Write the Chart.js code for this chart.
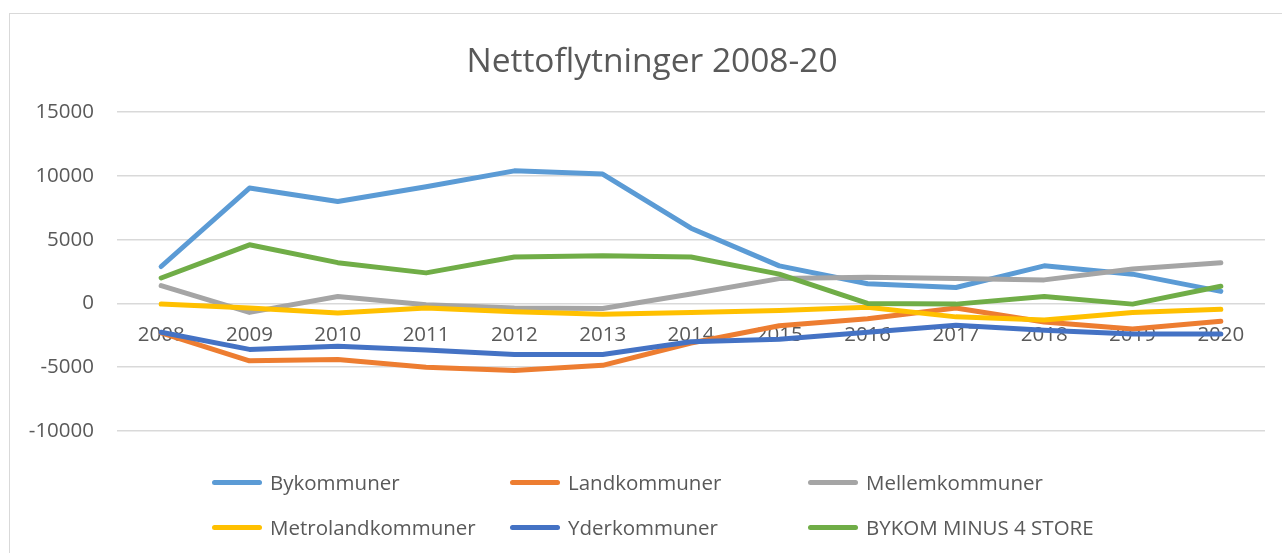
<!DOCTYPE html>
<html>
<head>
<meta charset="utf-8">
<script src="https://cdn.jsdelivr.net/npm/chart.js@4"></script>
<style>
  body { margin: 0; width: 1282px; height: 553px; overflow: hidden; background: #fff; position: relative; font-family: 'Open Sans', sans-serif; }
  #frame { position: absolute; left: 9px; top: 13px; width: 1300px; height: 600px; border: 1px solid #d9d9d9; }
  #myChart { position: absolute; left: 0; top: 0; }
  .leg { position: absolute; display: flex; align-items: center; color: #595959; font-size: 20.5px; white-space: nowrap; }
  .leg span.sw { display: inline-block; width: 50px; height: 5px; border-radius: 3px; margin-right: 8px; }
</style>
</head>
<body>
<div id="frame"></div>
<canvas id="myChart" width="1282" height="553"></canvas>
<div id="legend"></div>
<script>
const years = ['2008', '2009', '2010', '2011', '2012', '2013', '2014', '2015', '2016', '2017', '2018', '2019', '2020'];
const yTicks = [-10000, -5000, 0, 5000, 10000, 15000];

const bykommuner = [2900, 9050, 8000, 9150, 10400, 10150, 5900, 2950, 1550, 1250, 2950, 2300, 950];
const landkommuner = [-2300, -4500, -4400, -5000, -5250, -4850, -3100, -1750, -1200, -350, -1450, -2000, -1400];
const mellemkommuner = [1400, -700, 550, -100, -350, -400, 750, 1950, 2050, 1950, 1850, 2700, 3200];
const metrolandkommuner = [-50, -350, -750, -350, -650, -850, -700, -550, -300, -1050, -1300, -700, -450];
const yderkommuner = [-2250, -3600, -3350, -3650, -4000, -4000, -3000, -2800, -2250, -1700, -2100, -2400, -2400];
const bykomMinus4 = [2000, 4600, 3200, 2400, 3650, 3750, 3650, 2300, 0, -50, 550, -50, 1350];

const names = ['Bykommuner', 'Landkommuner', 'Mellemkommuner', 'Metrolandkommuner', 'Yderkommuner', 'BYKOM MINUS 4 STORE'];
const colors = ['#5B9BD5', '#ED7D31', '#A5A5A5', '#FFC000', '#4472C4', '#70AD47'];
const series = [bykommuner, landkommuner, mellemkommuner, metrolandkommuner, yderkommuner, bykomMinus4];

const textColor = '#595959';
const font = { family: "'Open Sans', sans-serif", size: 20.5 };

const datasets = series.map((values, i) => ({
    label: names[i],
    data: values,
    borderColor: colors[i],
    backgroundColor: colors[i],
    borderWidth: 5,
    borderCapStyle: 'round',
    borderJoinStyle: 'round',
    pointRadius: 0,
    tension: 0,
    order: series.length - i   // later series drawn on top, like Excel
}));

// legend in three fixed columns, built from the datasets
const legendPlugin = {
    id: 'htmlLegend',
    afterUpdate(chart) {
        const box = document.getElementById('legend');
        box.innerHTML = '';
        chart.data.datasets.forEach((ds, i) => {
            const item = document.createElement('div');
            item.className = 'leg';
            item.style.left = (212 + (i % 3) * 298) + 'px';
            item.style.top = (482 + Math.floor(i / 3) * 45 - 14) + 'px';
            item.innerHTML = '<span class="sw" style="background:' + ds.borderColor + '"></span>' + ds.label;
            box.appendChild(item);
        });
    }
};

// the Excel title is centred on the chart frame, which sits a bit to the right
const titleShift = {
    id: 'titleShift',
    afterLayout(chart) {
        if (chart.titleBlock) chart.titleBlock.left += 39;
    }
};

const config = {
    type: 'line',
    data: { labels: years, datasets: datasets },
    options: {
        responsive: false,
        animation: false,
        devicePixelRatio: 1,
        layout: { padding: { left: 0, right: 17, top: 0, bottom: 122 } },
        plugins: {
            legend: { display: false },
            tooltip: { enabled: false },
            title: {
                display: true,
                text: 'Nettoflytninger 2008-20',
                color: textColor,
                font: { family: "'Open Sans', sans-serif", size: 33.5, weight: 'normal' },
                padding: { top: 42, bottom: 30 }
            }
        },
        scales: {
            x: {
                position: { y: 0 },
                offset: true,
                grid: { display: false },
                border: { display: false },
                ticks: { color: textColor, font: font, padding: 11, maxRotation: 0 }
            },
            y: {
                min: -10000,
                max: 15000,
                afterFit: s => { s.width = 117; },
                afterBuildTicks: s => { s.ticks = yTicks.map(v => ({ value: v })); },
                grid: { color: '#d9d9d9', lineWidth: 1.5, drawTicks: false },
                border: { display: false },
                ticks: { color: textColor, font: font, padding: 23, callback: v => String(v) }
            }
        }
    },
    plugins: [legendPlugin, titleShift]
};

// eslint-disable-next-line
const myChart = new Chart(document.getElementById('myChart'), config);
</script>
</body>
</html>
